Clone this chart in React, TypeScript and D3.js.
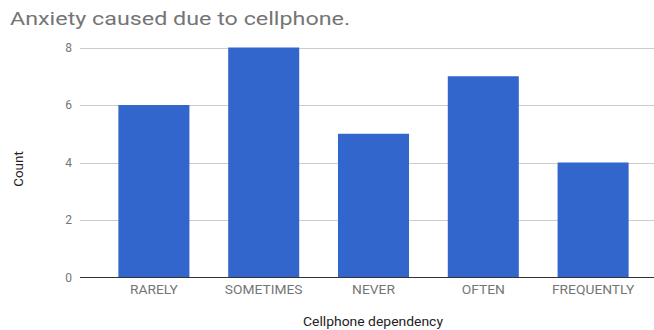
import React from "react";
import * as d3 from "d3";

const categories = ["RARELY", "SOMETIMES", "NEVER", "OFTEN", "FREQUENTLY"];
const counts = [6, 8, 5, 7, 4];
const yTicks = [0, 2, 4, 6, 8];

const W = 654;
const H = 330;
const gridLeft = 80;
const gridRight = 654;

export default function App() {
  const x = d3
    .scaleBand<string>()
    .domain(categories)
    .range([99, 648])
    .paddingInner(0.353)
    .paddingOuter(0.1765);
  const y = d3.scaleLinear().domain([0, 8]).range([277.5, 47.5]);
  const font = "Roboto, 'Noto Sans', Arial, sans-serif";

  return (
    <svg
      width={W}
      height={H}
      style={{ position: "absolute", left: 0, top: 0, background: "#fff" }}
      fontFamily={font}
    >
      <text
        transform="translate(10,25) scale(1.26,1)"
        fontSize={18.5}
        fill="#757575"
      >
        Anxiety caused due to cellphone.
      </text>
      {yTicks.map((t) => (
        <g key={t}>
          {t !== 0 && (
            <line
              x1={gridLeft}
              x2={gridRight}
              y1={Math.round(y(t)) + 0.5}
              y2={Math.round(y(t)) + 0.5}
              stroke="#cccccc"
              strokeWidth={1}
            />
          )}
          <text
            x={72}
            y={y(t) + 4}
            textAnchor="end"
            fontSize={12}
            fill="#757575"
          >
            {t}
          </text>
        </g>
      ))}
      {categories.map((c, i) => (
        <rect
          key={c}
          x={x(c)}
          y={y(counts[i])}
          width={x.bandwidth()}
          height={y(0) - y(counts[i])}
          fill="#3366cc"
        />
      ))}
      <line
        x1={gridLeft}
        x2={gridRight}
        y1={277.5}
        y2={277.5}
        stroke="#333333"
        strokeWidth={1}
      />
      {categories.map((c) => (
        <text
          key={c}
          transform={`translate(${(x(c) as number) + x.bandwidth() / 2},294) scale(1.15,1)`}
          textAnchor="middle"
          fontSize={12}
          fill="#757575"
        >
          {c}
        </text>
      ))}
      <text
        transform="translate(373,326) scale(1.16,1)"
        textAnchor="middle"
        fontSize={12}
        fill="#222222"
      >
        Cellphone dependency
      </text>
      <text
        transform="translate(23,169) rotate(-90) scale(1.12,1)"
        textAnchor="middle"
        fontSize={12}
        fill="#222222"
      >
        Count
      </text>
    </svg>
  );
}
